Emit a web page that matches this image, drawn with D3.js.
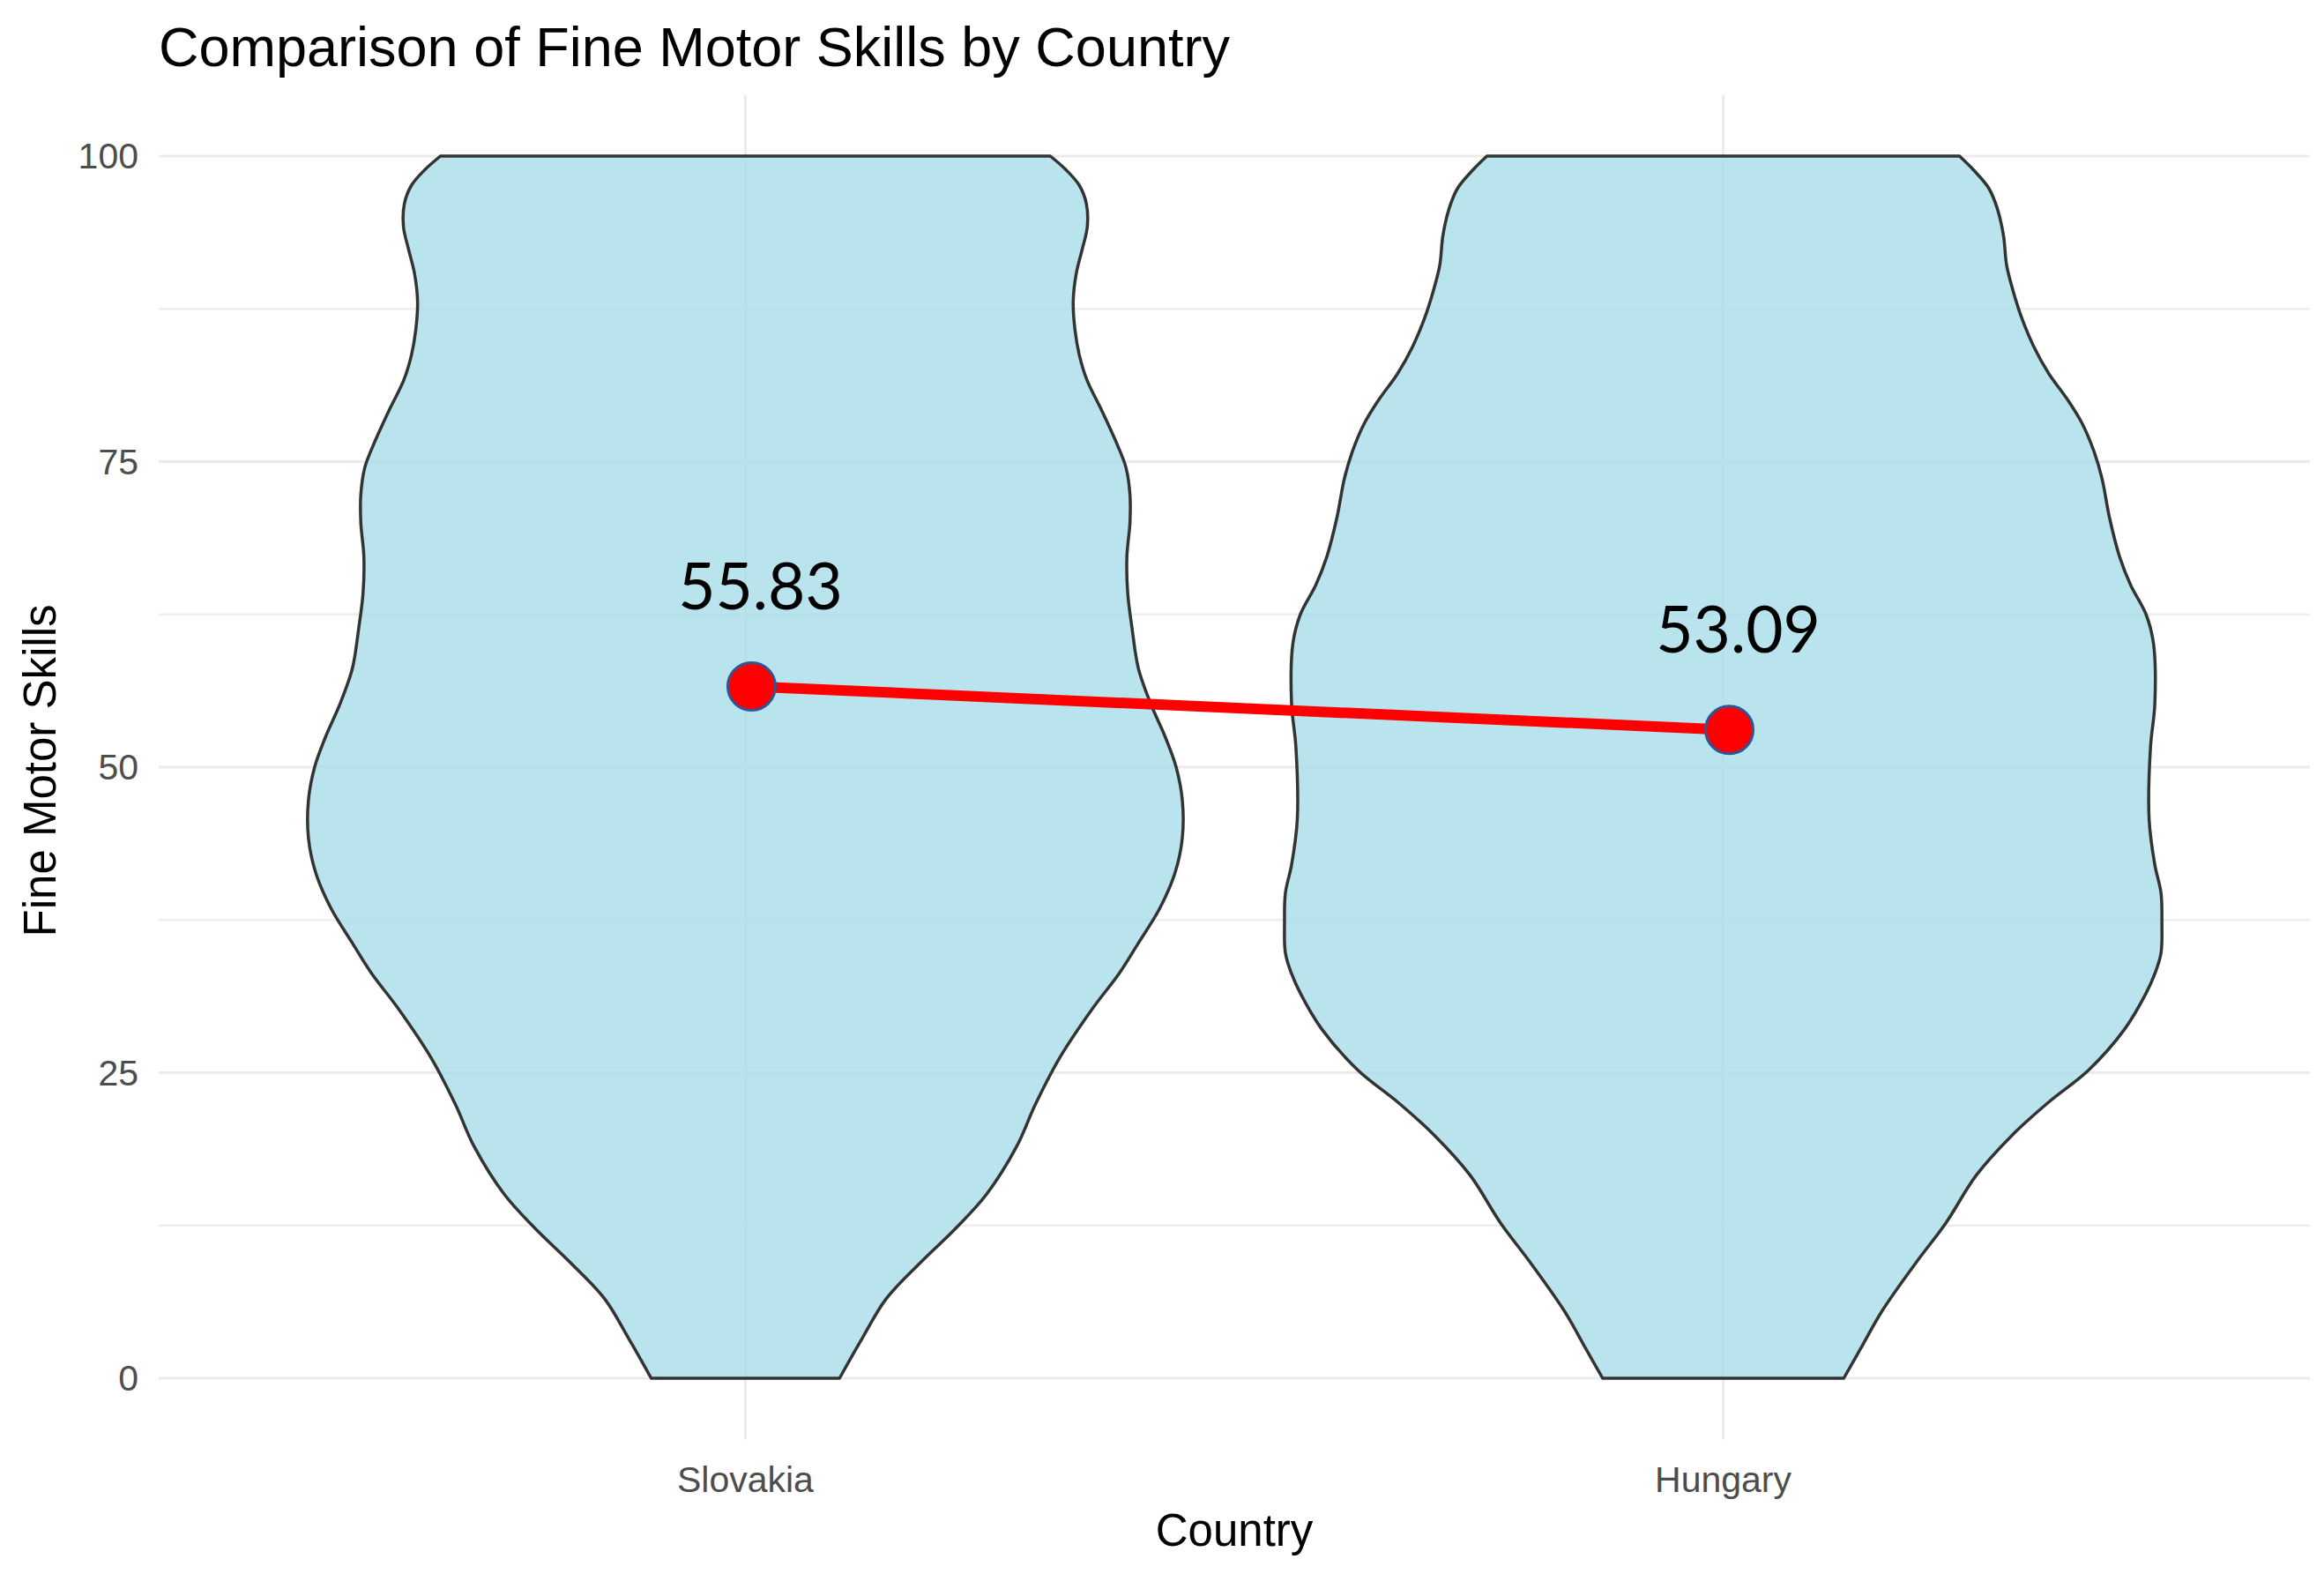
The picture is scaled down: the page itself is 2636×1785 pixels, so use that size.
<!DOCTYPE html>
<html>
<head>
<meta charset="utf-8">
<title>Comparison of Fine Motor Skills by Country</title>
<script src="https://cdn.jsdelivr.net/npm/d3@7"></script>
<style>
    body { margin: 0; background: #fff; }
    svg { display: block; }
</style>
</head>
<body>
<svg id="chart" width="2636" height="1785"></svg>
<script>
// Categories on the x axis
const countries = ['Slovakia', 'Hungary'];

// Mean labels as printed on the chart, and where the markers sit
const meanLabels = ['55.83', '53.09'];
const markerValues = [56.6, 53.05];

// Y axis ticks
const majorTicks = [0, 25, 50, 75, 100];
const minorTicks = [12.5, 37.5, 62.5, 87.5];

// Violin outlines: [score, relative width] (1 = widest violin)
const slovakiaProfile = [
    [0, 0.214], [3.3, 0.266], [6.5, 0.320], [9.4, 0.396], [12.3, 0.479],
    [15.1, 0.549], [19, 0.617], [22.4, 0.659], [26.2, 0.714], [30.3, 0.790],
    [33.1, 0.849], [35.6, 0.893], [38.4, 0.941], [41.3, 0.976], [44.2, 0.993],
    [47.3, 0.993], [50, 0.979], [52.4, 0.955], [55.2, 0.921], [58.1, 0.893],
    [61.3, 0.879], [64.2, 0.869], [67.2, 0.867], [70, 0.874], [72.3, 0.874],
    [74.5, 0.865], [76.4, 0.845], [79.1, 0.811], [81.7, 0.776], [83.7, 0.759],
    [85.8, 0.749], [88.1, 0.745], [90.4, 0.752], [92.3, 0.765], [94.2, 0.777],
    [96.1, 0.775], [97.6, 0.759], [98.9, 0.728], [100, 0.693]
];
const hungaryProfile = [
    [0, 0.274], [2.4, 0.312], [5.5, 0.361], [9.4, 0.437], [12.7, 0.506],
    [16.6, 0.575], [19.9, 0.657], [22.6, 0.740], [25.2, 0.830], [28.6, 0.913],
    [31.5, 0.961], [33.1, 0.981], [34.8, 0.995], [37.3, 0.997], [39.7, 0.995],
    [42, 0.981], [45.7, 0.968], [51.6, 0.971], [55.2, 0.981], [60.1, 0.978],
    [62.5, 0.961], [64.9, 0.926], [67.2, 0.901], [70.4, 0.878], [73.6, 0.861],
    [75.7, 0.844], [78.1, 0.816], [80.1, 0.782], [82.2, 0.740], [84.4, 0.706],
    [86.8, 0.678], [89.2, 0.657], [91.1, 0.644], [93.5, 0.637], [95.7, 0.623],
    [97.4, 0.603], [98.9, 0.568], [100, 0.537]
];
const profiles = [slovakiaProfile, hungaryProfile];

// Layout
const width = 2636, height = 1785;
const panel = { left: 180, right: 2620 };

const svg = d3.select('#chart');

const x = d3.scalePoint()
    .domain(countries)
    .range([panel.left, panel.right])
    .padding(0.6);

const y = d3.scaleLinear()
    .domain([0, 100])
    .range([1563, 177]);

const panelTop = y(105), panelBottom = y(-5);
const halfMax = x.step() * 0.45;

// Grid lines (theme_minimal look)
const grid = svg.append('g');
grid.selectAll('.minor')
    .data(minorTicks)
    .enter().append('line')
    .attr('x1', panel.left).attr('x2', panel.right)
    .attr('y1', d => y(d)).attr('y2', d => y(d))
    .attr('stroke', '#EEEEEE')
    .attr('stroke-width', 2.5);
grid.selectAll('.major')
    .data(majorTicks)
    .enter().append('line')
    .attr('x1', panel.left).attr('x2', panel.right)
    .attr('y1', d => y(d)).attr('y2', d => y(d))
    .attr('stroke', '#EBEBEB')
    .attr('stroke-width', 3);
grid.selectAll('.vert')
    .data(countries)
    .enter().append('line')
    .attr('x1', d => x(d)).attr('x2', d => x(d))
    .attr('y1', panelTop).attr('y2', panelBottom)
    .attr('stroke', '#EBEBEB')
    .attr('stroke-width', 3);

// Violins
const violinArea = d3.area()
    .y(d => y(d[0]))
    .curve(d3.curveCatmullRom.alpha(0.5));

svg.append('g').selectAll('path')
    .data(countries)
    .enter().append('path')
    .attr('d', (c, i) => violinArea
        .x0(d => x(c) - d[1] * halfMax)
        .x1(d => x(c) + d[1] * halfMax)(profiles[i]))
    .attr('fill', '#A8DDEA')
    .attr('fill-opacity', 0.8)
    .attr('stroke', '#333333')
    .attr('stroke-width', 3.5)
    .attr('stroke-linejoin', 'round');

// Mean line + markers (drawn slightly right of the category line, as in the source)
const nudge = 7;
const means = countries.map((c, i) => ({ name: c, v: markerValues[i], label: meanLabels[i] }));

svg.append('path')
    .datum(means)
    .attr('d', d3.line().x(d => x(d.name) + nudge).y(d => y(d.v)))
    .attr('fill', 'none')
    .attr('stroke', '#FF0000')
    .attr('stroke-width', 12);

svg.append('g').selectAll('circle')
    .data(means)
    .enter().append('circle')
    .attr('cx', d => x(d.name) + nudge)
    .attr('cy', d => y(d.v))
    .attr('r', 27)
    .attr('fill', '#FF0000')
    .attr('stroke', '#2F5597')
    .attr('stroke-width', 3);

svg.append('g').selectAll('text')
    .data(means)
    .enter().append('text')
    .attr('x', d => x(d.name) + nudge + 10)
    .attr('y', d => y(d.v) - 88)
    .attr('text-anchor', 'middle')
    .attr('font-family', 'Lato, "Open Sans", sans-serif')
    .attr('font-size', 73)
    .attr('fill', '#000')
    .text(d => d.label);

// Axis labels
const tickFont = '"Liberation Sans", Arial, sans-serif';

svg.append('g').selectAll('text')
    .data(majorTicks)
    .enter().append('text')
    .attr('x', 157)
    .attr('y', d => y(d))
    .attr('dy', '0.35em')
    .attr('text-anchor', 'end')
    .attr('font-family', tickFont)
    .attr('font-size', 41)
    .attr('fill', '#4D4D4D')
    .text(d => d);

svg.append('g').selectAll('text')
    .data(countries)
    .enter().append('text')
    .attr('x', d => x(d))
    .attr('y', 1692)
    .attr('text-anchor', 'middle')
    .attr('font-family', tickFont)
    .attr('font-size', 41)
    .attr('fill', '#4D4D4D')
    .text(d => d);

// Axis titles
svg.append('text')
    .attr('x', (panel.left + panel.right) / 2)
    .attr('y', 1753)
    .attr('text-anchor', 'middle')
    .attr('font-family', tickFont)
    .attr('font-size', 51)
    .attr('fill', '#000')
    .text('Country');

svg.append('text')
    .attr('transform', `translate(63,${(panelTop + panelBottom) / 2 + 4}) rotate(-90)`)
    .attr('text-anchor', 'middle')
    .attr('font-family', tickFont)
    .attr('font-size', 51)
    .attr('fill', '#000')
    .text('Fine Motor Skills');

// Title
svg.append('text')
    .attr('x', 180)
    .attr('y', 75)
    .attr('font-family', tickFont)
    .attr('font-size', 63)
    .attr('fill', '#000')
    .text('Comparison of Fine Motor Skills by Country');
</script>
</body>
</html>
